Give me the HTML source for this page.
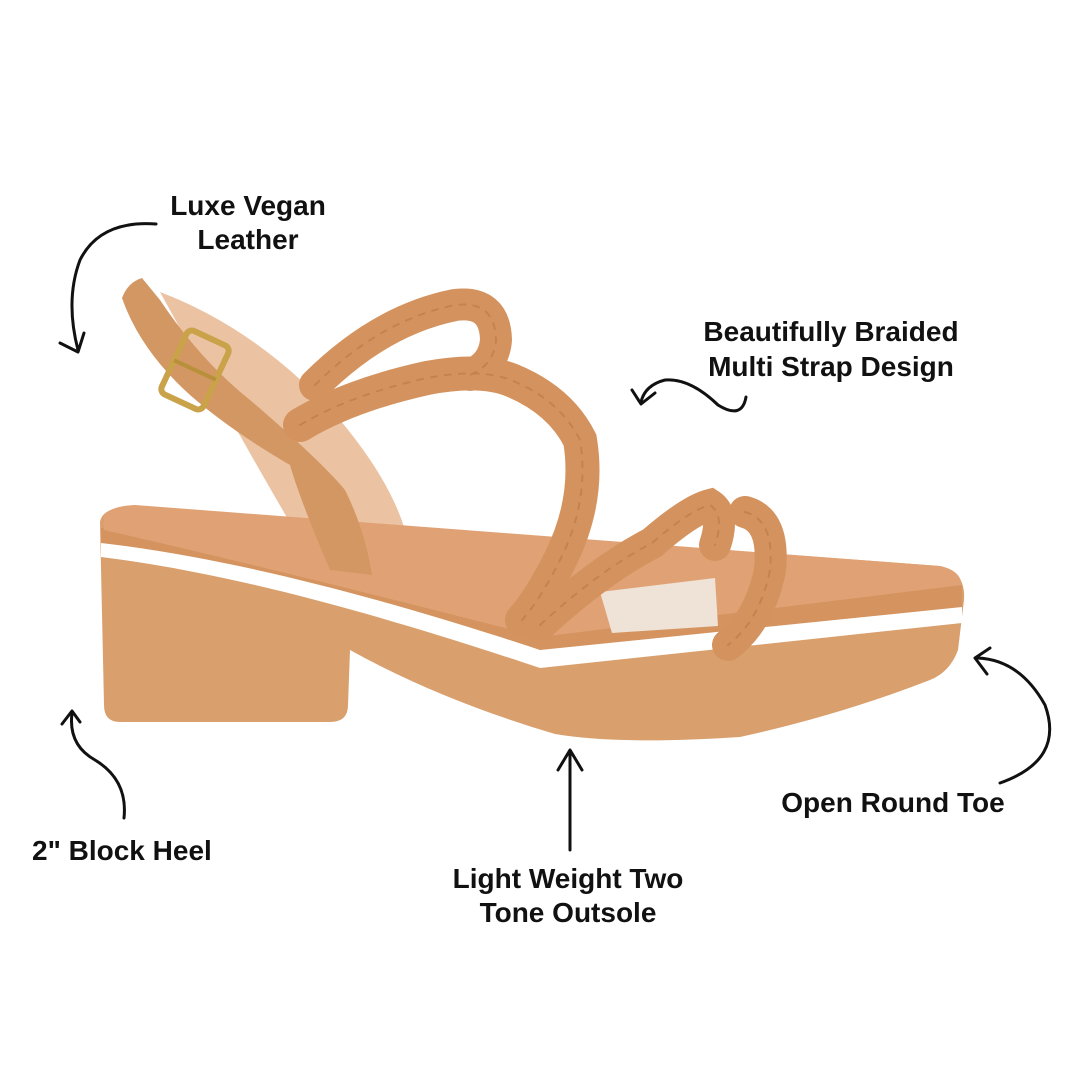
<!DOCTYPE html>
<html><head><meta charset="utf-8"><style>
html,body{margin:0;padding:0;background:#fff;}
svg{display:block}
text{font-family:"Liberation Sans",sans-serif;font-weight:bold;font-size:28px;fill:#111;}
</style></head><body>
<svg width="1080" height="1080" viewBox="0 0 1080 1080" xmlns="http://www.w3.org/2000/svg">
<rect width="1080" height="1080" fill="#fff"/>
<path d="M160,292 Q260,330 340,420 Q390,480 405,530 L300,540 Q230,420 160,292Z" fill="#EBC3A3"/>
<path d="M100,522 Q102,508 130,506 L940,566 Q966,572 964,600 L958,650 Q950,672 930,680 Q840,715 740,737 Q620,745 555,734 Q440,700 350,650 L348,705 Q348,722 330,722 L120,722 Q104,722 104,705 Z" fill="#D9A06E"/>
<path d="M101,528 C250,548 420,600 540,637 L962,583 L962,610 L540,652 C420,615 250,562 101,545Z" fill="#D4935F"/>
<path d="M104,516 Q110,506 135,505 L940,566 Q960,570 962,585 L540,637 Q300,575 104,530Z" fill="#E0A274"/>
<path d="M600,592 L715,578 L718,626 L612,633 Z" fill="#EFE2D6"/>
<path d="M101,543 C250,560 420,610 540,650 L962,607 L962,623 L540,668 C420,628 250,575 101,557 Z" fill="#fff"/>
<path d="M122,298 Q128,282 142,278 L160,300 Q200,360 250,400 Q320,460 345,490 Q365,530 372,575 L330,570 Q300,500 290,465 Q230,430 190,395 Q140,350 122,298Z" fill="#D39763"/>
<g transform="rotate(25 195 370)">
<rect x="172" y="335" width="46" height="70" rx="6" fill="none" stroke="#C9A24A" stroke-width="6"/>
<line x1="172" y1="370" x2="218" y2="370" stroke="#B8903A" stroke-width="4"/>
</g>
<g fill="none" stroke-linecap="round">
<path d="M315,385 Q380,320 455,305 Q495,300 496,340 Q494,365 470,375" stroke="#D4935E" stroke-width="32"/>
<path d="M300,425 Q350,395 427,378 Q480,368 511,380 Q560,400 580,440 Q590,500 560,560 Q540,600 522,620" stroke="#D4935E" stroke-width="34"/>
<path d="M540,625 Q600,570 652,543 Q690,510 710,505 Q725,515 715,545" stroke="#D4935E" stroke-width="32"/>
<path d="M745,512 Q775,520 770,570 Q760,620 728,645" stroke="#D4935E" stroke-width="32"/>
<g stroke="#B8784A" stroke-width="2" stroke-dasharray="6 8" opacity="0.6">
<path d="M315,385 Q380,320 455,305 Q495,300 496,340 Q494,365 470,375"/>
<path d="M300,425 Q350,395 427,378 Q480,368 511,380 Q560,400 580,440 Q590,500 560,560 Q540,600 522,620"/>
<path d="M540,625 Q600,570 652,543 Q690,510 710,505 Q725,515 715,545"/>
<path d="M745,512 Q775,520 770,570 Q760,620 728,645"/>
</g>
</g>
<g fill="none" stroke="#111" stroke-width="3" stroke-linecap="round" stroke-linejoin="round">
<path d="M156,224 Q100,220 80,260 Q65,300 78,350"/>
<path d="M60,343 L78,352 L84,333"/>
<path d="M746,397 Q742,420 718,405 Q690,378 665,380 Q645,385 641,402"/>
<path d="M632,390 L641,404 L655,393"/>
<path d="M124,818 Q128,780 95,760 Q68,745 72,713"/>
<path d="M62,724 L72,711 L80,722"/>
<path d="M570,850 L570,752"/>
<path d="M558,770 L570,750 L582,770"/>
<path d="M1000,783 Q1065,760 1045,705 Q1020,660 978,658"/>
<path d="M990,648 L975,658 L987,674"/>
</g>
<text x="248" y="215" text-anchor="middle">Luxe Vegan</text>
<text x="248" y="249" text-anchor="middle">Leather</text>
<text x="831" y="341" text-anchor="middle">Beautifully Braided</text>
<text x="831" y="376" text-anchor="middle">Multi Strap Design</text>
<text x="32" y="860">2" Block Heel</text>
<text x="568" y="888" text-anchor="middle">Light Weight Two</text>
<text x="568" y="922" text-anchor="middle">Tone Outsole</text>
<text x="893" y="812" text-anchor="middle">Open Round Toe</text>
</svg>
</body></html>
